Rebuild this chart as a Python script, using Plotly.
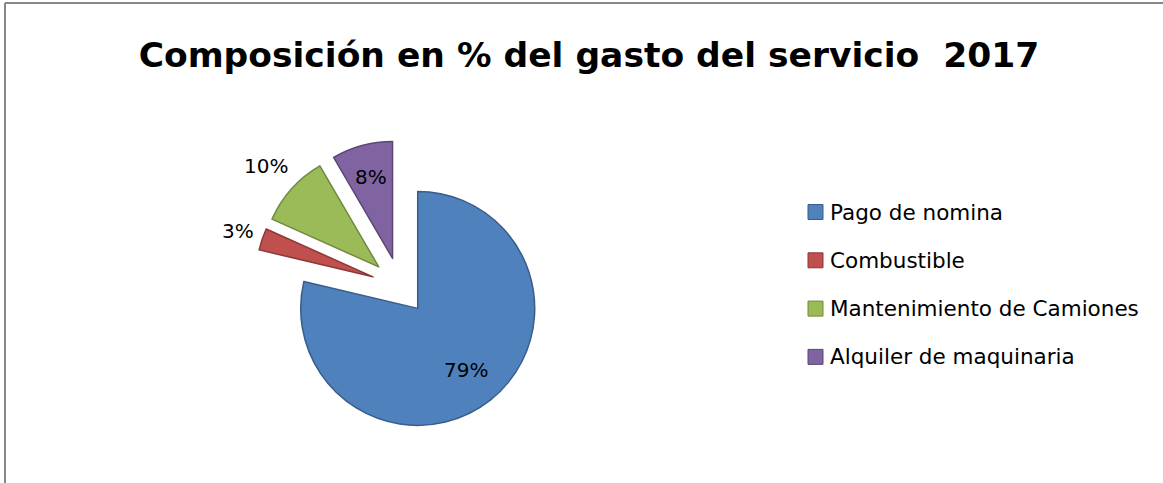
import numpy as np
import plotly.graph_objects as go

labels = ["Pago de nomina", "Combustible", "Mantenimiento de Camiones", "Alquiler de maquinaria"]
values = [78.7, 3.0, 9.9, 8.4]
colors = ["#4F81BD", "#C0504D", "#9BBB59", "#8064A2"]
edge_colors = ["#385D8A", "#8C3836", "#71893F", "#5C4776"]
label_radius = [0.67, 1.22, 1.29, 0.72]   # label distance from slice tip, in radii
title_text = "Composición en % del gasto del servicio \u00a02017"

W, H = 1163, 483
FONT = "DejaVu Sans"

# pie geometry in pixels
cx, cy, r, pull = 400, 286, 117, 0.244
half = r * (1 + pull)

vals = np.array(values, dtype=float)
frac = vals / vals.sum()
mid = (np.cumsum(frac) - frac / 2) * 2 * np.pi  # clockwise from 12 o'clock
pct_text = [f"{round(f * 100):.0f}%" for f in frac]

fig = go.Figure()
fig.add_trace(go.Pie(
    labels=labels, values=values, sort=False, direction="clockwise", rotation=0,
    marker=dict(colors=colors, line=dict(color=edge_colors, width=1.5)),
    pull=[pull] * len(values),
    textinfo="none",
    showlegend=False, hoverinfo="label+percent",
    domain=dict(x=[(cx - half) / W, (cx + half) / W],
                y=[1 - (cy + half) / H, 1 - (cy - half) / H]),
))

annotations = []
for t, a, k in zip(pct_text, mid, label_radius):
    d = pull + k
    px = cx + d * r * np.sin(a)
    py = cy - d * r * np.cos(a)
    annotations.append(dict(text=t, xref="paper", yref="paper", x=px / W, y=1 - py / H,
                            xanchor="center", yanchor="middle", showarrow=False,
                            font=dict(family=FONT, size=20, color="black")))

shapes = [
    dict(type="line", xref="paper", yref="paper", x0=5 / W, x1=1, y0=1 - 3 / H, y1=1 - 3 / H,
         line=dict(color="#888888", width=2)),
    dict(type="line", xref="paper", yref="paper", x0=5 / W, x1=5 / W, y0=0, y1=1 - 3 / H,
         line=dict(color="#888888", width=2)),
]
leg_x, leg_y0, leg_dy, sq = 808, 212, 48.3, 15
for i, (lab, c, ec) in enumerate(zip(labels, colors, edge_colors)):
    yc = leg_y0 + i * leg_dy
    shapes.append(dict(type="rect", xref="paper", yref="paper",
                       x0=leg_x / W, x1=(leg_x + sq) / W,
                       y0=1 - (yc + sq / 2) / H, y1=1 - (yc - sq / 2) / H,
                       fillcolor=c, line=dict(color=ec, width=1)))
    annotations.append(dict(text=lab, xref="paper", yref="paper", x=(leg_x + 20) / W, y=1 - yc / H,
                            xanchor="left", yanchor="middle", showarrow=False,
                            font=dict(family=FONT, size=21.5, color="black")))

fig.update_layout(
    width=W, height=H,
    margin=dict(l=0, r=0, t=0, b=0),
    paper_bgcolor="white", plot_bgcolor="white",
    title=dict(text=title_text, x=589 / W, xanchor="center", y=1 - 55 / H, yanchor="middle",
               xref="paper", yref="container",
               font=dict(family=FONT, size=34.5, color="black", weight="bold")),
    shapes=shapes, annotations=annotations,
)

fig.write_html("out.html", config={"displayModeBar": False},
               post_script="document.body.style.margin='0';document.body.style.overflow='hidden';")
